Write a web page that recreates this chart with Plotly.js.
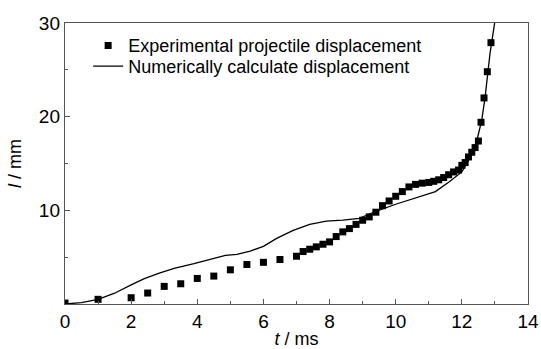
<!DOCTYPE html>
<html>
<head>
<meta charset="utf-8">
<script src="https://cdn.plot.ly/plotly-3.0.1.min.js"></script>
<style>html,body{margin:0;padding:0;background:#fff;}#chart{width:541px;height:349px;}</style>
</head>
<body>
<div id="chart"></div>
<script>
// Experimental projectile displacement (t in ms, l in mm)
const expT = [0, 1, 2, 2.5, 3, 3.5, 4, 4.5, 5, 5.5, 6, 6.5, 7, 7.2, 7.4, 7.6, 7.8, 8.0, 8.2, 8.4, 8.6, 8.8, 9.0, 9.2, 9.4, 9.6, 9.8, 10.0, 10.2, 10.4, 10.6, 10.8, 11.0, 11.15, 11.3, 11.45, 11.6, 11.75, 11.9, 12.0, 12.1, 12.2, 12.3, 12.4, 12.5, 12.58, 12.67, 12.77, 12.88];
const expL = [0.1, 0.5, 0.67, 1.17, 1.88, 2.16, 2.73, 2.98, 3.65, 4.22, 4.45, 4.75, 5.1, 5.6, 5.85, 6.1, 6.38, 6.63, 7.2, 7.7, 8.05, 8.5, 8.94, 9.3, 9.8, 10.5, 11.0, 11.5, 12.0, 12.5, 12.77, 12.9, 12.98, 13.1, 13.26, 13.5, 13.8, 14.1, 14.3, 14.8, 15.1, 15.7, 16.2, 16.7, 17.4, 19.4, 22.0, 24.8, 27.9];
// Numerically calculated displacement
const numT = [0, 0.5, 1.0, 1.5, 2.0, 2.4, 2.85, 3.3, 3.9, 4.4, 4.85, 5.2, 5.6, 6.0, 6.4, 6.9, 7.4, 7.9, 8.4, 8.9, 9.4, 10.0, 10.6, 11.0, 11.2, 11.6, 12.0, 12.15, 12.3, 12.45, 12.6, 12.7, 12.85, 13.0];
const numL = [0, 0.15, 0.5, 1.15, 2.05, 2.7, 3.3, 3.8, 4.3, 4.75, 5.2, 5.3, 5.65, 6.15, 7.0, 7.85, 8.5, 8.85, 8.95, 9.15, 9.9, 10.65, 11.35, 11.75, 12.0, 13.0, 14.1, 15.0, 16.0, 17.4, 19.6, 22.0, 26.7, 30.2];
const xTicks = [0, 2, 4, 6, 8, 10, 12, 14];
const yTicks = [10, 20, 30];

const fam = '"Liberation Sans", Arial, sans-serif';
const font = {family: fam, size: 19, color: '#000'};
const legFont = {family: fam, size: 18, color: '#000'};

const traces = [
  {x: expT, y: expL, type: 'scatter', mode: 'markers', name: 'Experimental projectile displacement',
   marker: {symbol: 'square', size: 7, color: '#000'}, cliponaxis: true, legend: 'legend'},
  {x: numT, y: numL, type: 'scatter', mode: 'lines', name: 'Numerically calculate displacement',
   line: {color: '#000', width: 1.3}, cliponaxis: true, legend: 'legend2'}
];

const layout = {
  width: 541, height: 349,
  margin: {l: 65, r: 13, t: 23, b: 45},
  paper_bgcolor: '#fff', plot_bgcolor: '#fff',
  font: font,
  showlegend: true,
  legend: {x: 0.05, y: 0.985, xanchor: 'left', yanchor: 'top', bgcolor: 'rgba(0,0,0,0)', font: legFont},
  legend2: {x: 0.05, y: 0.911, xanchor: 'left', yanchor: 'top', bgcolor: 'rgba(0,0,0,0)', font: legFont},
  xaxis: {range: [0, 14], tickvals: xTicks, ticktext: xTicks.map(String),
          ticks: 'inside', ticklen: 5, tickcolor: '#555', tickwidth: 1,
          minor: {dtick: 1, ticks: 'inside', ticklen: 3, tickcolor: '#555'},
          showline: true, linecolor: '#555', linewidth: 1.2, mirror: true,
          showgrid: false, zeroline: false, tickfont: {size: 19},
          title: {text: '<i>t</i> / ms', font: {size: 18}, standoff: 5}},
  yaxis: {range: [0, 30], tickvals: yTicks, ticktext: yTicks.map(String),
          ticks: 'inside', ticklen: 5, tickcolor: '#555', tickwidth: 1,
          minor: {tickvals: [5, 15, 25], ticks: 'inside', ticklen: 3, tickcolor: '#555'},
          showline: true, linecolor: '#555', linewidth: 1.2, mirror: true,
          showgrid: false, zeroline: false, tickfont: {size: 19},
          title: {text: '<i>l</i> / mm', font: {size: 18}, standoff: 12}}
};

Plotly.newPlot('chart', traces, layout, {displayModeBar: false, staticPlot: true});
</script>
</body>
</html>
